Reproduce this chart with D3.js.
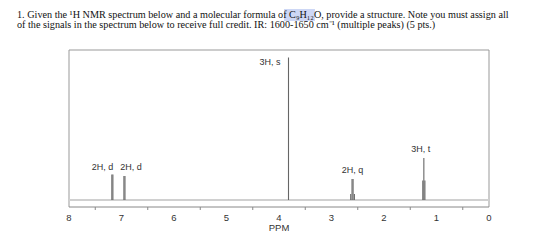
<!DOCTYPE html>
<html><head><meta charset="utf-8">
<script src="https://cdn.jsdelivr.net/npm/d3@7/dist/d3.min.js"></script>
<style>body{margin:0;background:#fff}</style>
</head><body><svg id="c" width="560" height="252"></svg>
<script>
// Data
const xTicks = [8,7,6,5,4,3,2,1,0];
const minorTicks = [7.5,6.5,5.5,4.5,3.5,2.5,1.5,0.5];
// individual lines [ppm, relative intensity]
const lines = [
  [7.185,17],[7.165,17],
  [6.955,16],[6.935,16],
  [3.82,95],
  [2.635,4],[2.61,14],[2.59,14],[2.565,4],
  [1.262,13],[1.242,28],[1.222,13]
];
const labels = [
  {text:"3H, s", ppm:4.17, val:90},
  {text:"2H, d", ppm:7.36, val:20},
  {text:"2H, d", ppm:6.82, val:20},
  {text:"2H, q", ppm:2.6, val:18},
  {text:"3H, t", ppm:1.30, val:32}
];
const title1 = "1.  Given the ¹H NMR spectrum below and a molecular formula of C₉H₁₂O, provide a structure. Note you must assign all";
const title2 = "of the signals in the spectrum below to receive full credit. IR: 1600-1650 cm⁻¹ (multiple peaks) (5 pts.)";

const svg = d3.select("#c");
const x = d3.scaleLinear().domain([8,0]).range([69,489]);
const y = d3.scaleLinear().domain([0,100]).range([200,50]);

// highlight
svg.append("rect").attr("x",284).attr("y",9).attr("width",31).attr("height",12).attr("fill","#cdd7f5");

// title
svg.append("text").attr("x",17).attr("y",18).attr("font-family","Liberation Serif").attr("font-size",10.2).attr("fill","#111").text(title1);
svg.append("text").attr("x",17).attr("y",28).attr("font-family","Liberation Serif").attr("font-size",10.2).attr("fill","#111").text(title2);

// box
svg.append("path").attr("d",`M${x(8)},207 V50 H${x(0)} V207`).attr("fill","none").attr("stroke","#999").attr("stroke-width",1);

// baseline
svg.append("line").attr("x1",x(8)).attr("x2",x(0)).attr("y1",y(0)).attr("y2",y(0)).attr("stroke","#d0d0d0").attr("stroke-width",2);

// peaks
svg.selectAll("rect.pk").data(lines).join("rect").attr("class","pk")
  .attr("x",d=>x(d[0])-0.5).attr("width",1.1)
  .attr("y",d=>y(d[1])).attr("height",d=>y(0)-y(d[1]))
  .attr("fill","#666");

// axis
const ax = svg.append("g").attr("transform","translate(0,207)");
ax.append("line").attr("x1",x(8)).attr("x2",x(0)).attr("stroke","#888");
ax.selectAll("line.mt").data(minorTicks).join("line").attr("class","mt")
  .attr("x1",d=>x(d)).attr("x2",d=>x(d)).attr("y1",0).attr("y2",3).attr("stroke","#888");
ax.selectAll("text").data(xTicks).join("text")
  .attr("x",d=>x(d)).attr("y",14).attr("text-anchor","middle")
  .attr("font-family","Liberation Sans").attr("font-size",9.5).attr("fill","#333").text(d=>d);
svg.append("text").attr("x",x(4)).attr("y",231).attr("text-anchor","middle")
  .attr("font-family","Liberation Sans").attr("font-size",9.5).attr("fill","#333").text("PPM");

// labels
svg.selectAll("text.lb").data(labels).join("text").attr("class","lb")
  .attr("x",d=>x(d.ppm)).attr("y",d=>y(d.val)).attr("text-anchor","middle")
  .attr("font-family","Liberation Sans").attr("font-size",9).attr("fill","#333").text(d=>d.text);
</script></body></html>
